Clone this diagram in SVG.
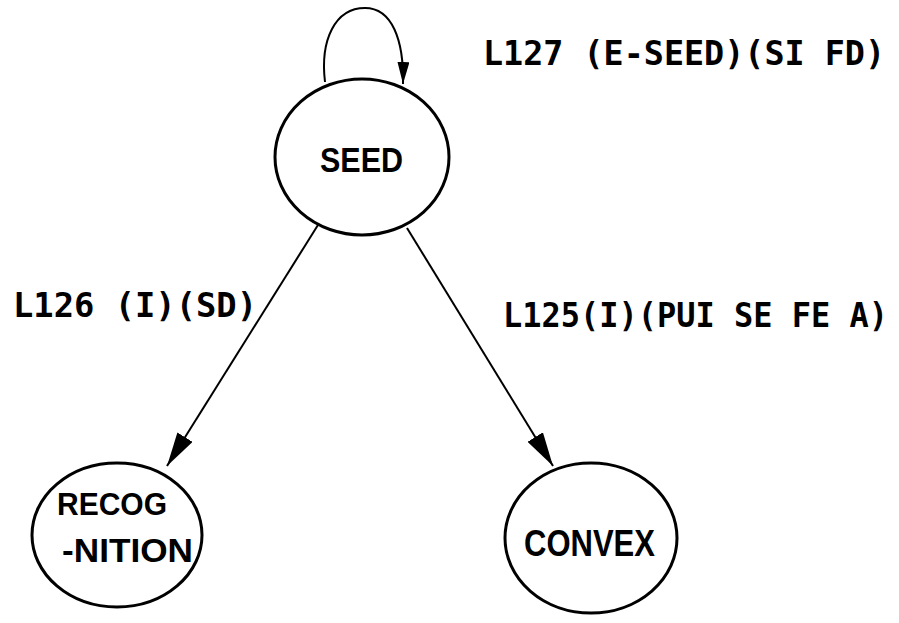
<svg xmlns="http://www.w3.org/2000/svg" width="899" height="623" viewBox="0 0 899 623">
  <style>
    .node { fill: #fff; stroke: #000; stroke-width: 3; }
    .name { font-family: "Liberation Sans", Arial, sans-serif; font-weight: bold; fill: #000; }
    .lbl { font-family: "DejaVu Sans Mono", "Liberation Mono", monospace; font-weight: bold; font-size: 33px; fill: #000; }
    .edge { fill: none; stroke: #000; stroke-width: 2; }
  </style>
  <defs>
    <marker id="arrow" viewBox="0 0 34 18" refX="34" refY="9" markerWidth="34" markerHeight="18" markerUnits="userSpaceOnUse" orient="auto">
      <path d="M0,0 L34,9 L0,18 Z" fill="#000"/>
    </marker>
    <marker id="arrow-small" viewBox="0 0 22 12" refX="22" refY="6" markerWidth="22" markerHeight="12" markerUnits="userSpaceOnUse" orient="auto">
      <path d="M0,0 L22,6 L0,12 Z" fill="#000"/>
    </marker>
  </defs>
  <rect width="899" height="623" fill="#fff"/>

  <g id="edges">
    <path class="edge" d="M325,82 C320,40 335,8 365,8 C392,8 404,40 403,84" marker-end="url(#arrow-small)"/>
    <line class="edge" x1="318" y1="225" x2="167" y2="466" marker-end="url(#arrow)"/>
    <line class="edge" x1="407" y1="228" x2="553" y2="466" marker-end="url(#arrow)"/>
    <text class="lbl" x="483" y="65" textLength="402" lengthAdjust="spacingAndGlyphs">L127 (E-SEED)(SI FD)</text>
    <text class="lbl" x="13" y="317" textLength="244" lengthAdjust="spacingAndGlyphs">L126 (I)(SD)</text>
    <text class="lbl" x="503" y="327" textLength="385" lengthAdjust="spacingAndGlyphs">L125(I)(PUI SE FE A)</text>
  </g>

  <g id="seed">
    <ellipse class="node" cx="362" cy="157" rx="87" ry="78"/>
    <text class="name" x="320" y="172" font-size="35" textLength="83" lengthAdjust="spacingAndGlyphs">SEED</text>
  </g>

  <g id="recognition">
    <ellipse class="node" cx="117" cy="535" rx="85" ry="72"/>
    <text class="name" x="57" y="515" font-size="32" textLength="110" lengthAdjust="spacingAndGlyphs">RECOG</text>
    <text class="name" x="62" y="562" font-size="33" textLength="131" lengthAdjust="spacingAndGlyphs">-NITION</text>
  </g>

  <g id="convex">
    <ellipse class="node" cx="591" cy="538" rx="86" ry="75"/>
    <text class="name" x="524" y="556" font-size="37" textLength="131" lengthAdjust="spacingAndGlyphs">CONVEX</text>
  </g>
</svg>
